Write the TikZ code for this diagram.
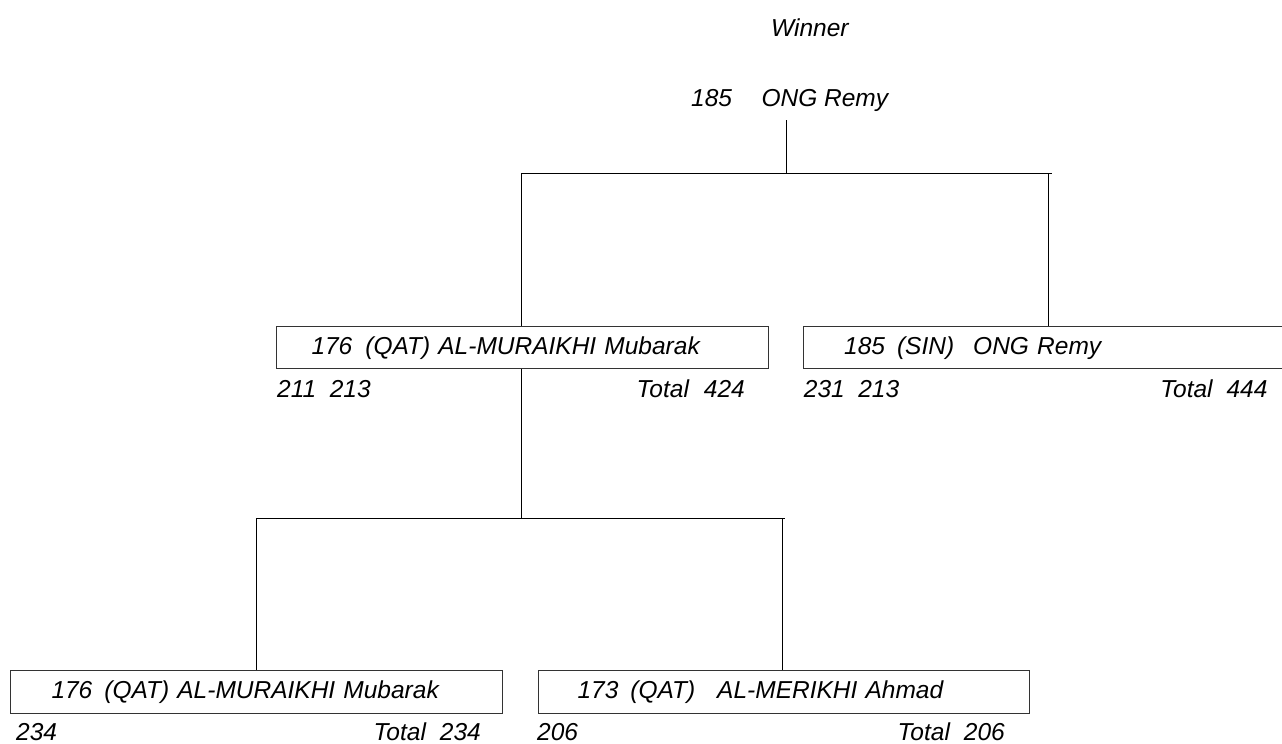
\documentclass[tikz,border=0pt]{standalone}
\usepackage{fontspec}
\setmainfont{Liberation Sans}
\begin{document}
\begin{tikzpicture}[x=1pt,y=-1pt,
  font=\fontsize{24.5}{28}\selectfont\itshape,
  player/.style={draw=black!80, line width=1pt, anchor=north west,
    minimum height=42.5pt, inner sep=0pt, text width=#1, align=left,
    text height=17.5pt, text depth=3.5pt},
  score/.style={inner sep=0pt, anchor=base west},
  total/.style={inner sep=0pt, anchor=base east},
  plain/.style={inner sep=0pt, anchor=base west},
  link/.style={line width=1pt, draw=black}]
\useasboundingbox (0,0) rectangle (1282,744);

% title
\node[plain] (title) at (771,36) {Winner};
\node[plain] (win) at (691,106.7) {185\hspace{29.5pt}ONG Remy};

% boxes
\node[player=492pt] (b1) at (276,325.7) {\hspace*{35pt}176\hspace{13pt}(QAT) AL-MURAIKHI Mubarak};
\node[player=490pt] (b2) at (802.7,325.7) {\hspace*{41pt}185\hspace{12pt}(SIN)\hspace{19pt}ONG Remy};
\node[player=492pt] (b3) at (10,670) {\hspace*{41pt}176\hspace{12pt}(QAT) AL-MURAIKHI Mubarak};
\node[player=491pt] (b4) at (538,670) {\hspace*{39pt}173\hspace{12pt}(QAT)\hspace{22pt}AL-MERIKHI Ahmad};

% scores
\node[score] (s1) at ([xshift=1pt,yshift=-28.5pt]b1.south west) {211\ \ 213};
\node[total] (t1) at ([xshift=-24pt,yshift=-28.5pt]b1.south east) {Total\hspace{15pt}424};
\node[score] (s2) at ([xshift=1pt,yshift=-28.5pt]b2.south west) {231\ \ 213};
\node[total] (t2) at ([xshift=-26pt,yshift=-28.5pt]b2.south east) {Total\hspace{14pt}444};
\node[score] (s3) at ([xshift=6pt,yshift=-27pt]b3.south west) {234};
\node[total] (t3) at ([xshift=-22pt,yshift=-27pt]b3.south east) {Total\hspace{14pt}234};
\node[score] (s4) at ([xshift=-1pt,yshift=-27pt]b4.south west) {206};
\node[total] (t4) at ([xshift=-25pt,yshift=-27pt]b4.south east) {Total\hspace{14pt}206};

% connectors
\coordinate (w0) at (786.7,120);
\coordinate (j0) at (786.7,173);
\coordinate (jL) at (521,173);
\coordinate (jR) at (1048.7,173);
\coordinate (kM) at (521,518.5);
\coordinate (kL) at (256,518.5);
\coordinate (kR) at (782,518.5);

\draw[link] (w0) -- (j0);
\draw[link] (jL) -- ([xshift=3pt]jR);
\draw[link] (jL) -- (jL |- b1.north);
\draw[link] (jR) -- (jR |- b2.north);
\draw[link] (kM |- b1.south) -- (kM);
\draw[link] (kL) -- ([xshift=3pt]kR);
\draw[link] (kL) -- (kL |- b3.north);
\draw[link] (kR) -- (kR |- b4.north);
\end{tikzpicture}
\end{document}
